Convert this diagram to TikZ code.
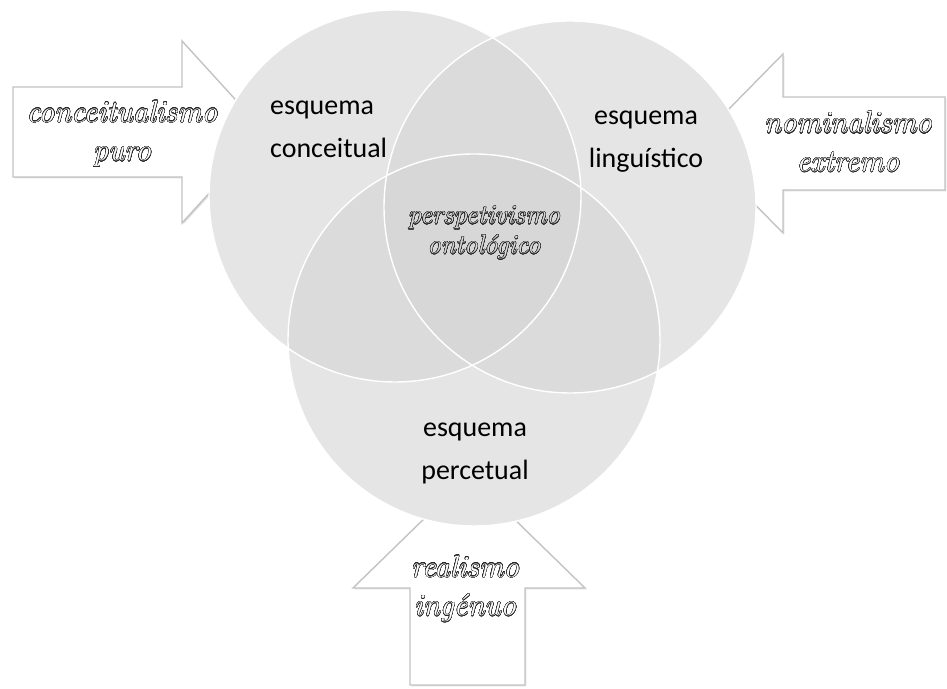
\documentclass[tikz,border=0pt]{standalone}
\usepackage{fontspec}
\newfontfamily\schemafont{Carlito}
\usepackage[copies]{contour}
\contourlength{0.22pt}
\contournumber{32}
\definecolor{venn}{RGB}{213,213,213}
\definecolor{rim}{RGB}{195,195,195}
\definecolor{ink}{RGB}{40,40,40}
\definecolor{core}{RGB}{216,216,216}
\usetikzlibrary{shadows}
\newcommand{\hollow}[2]{\contour{ink}{\textcolor{#1}{#2}}}

\begin{document}
\begin{tikzpicture}[x=0.02cm,y=0.02cm,
	block/.style={fill=white,draw=rim,line width=0.8pt,drop shadow={opacity=0.25,shadow xshift=0.8pt,shadow yshift=-0.8pt}},
	disc/.style={fill=venn,fill opacity=0.6},
	rimline/.style={draw=white,line width=0.8pt},
	schema/.style={font=\schemafont\fontsize{15.9}{24.5}\selectfont},
	school/.style={font=\itshape\fontsize{17.5}{22}\selectfont,align=center}]
	\useasboundingbox (0,0) rectangle (947,689);
	
	\coordinate (conc) at (395,493);
	\coordinate (ling) at (570,482);
	\coordinate (perc) at (474,349);
	
	% block arrows
	\draw[block] (13,512) -- (182,512) -- (182,466) -- (265,557) -- (182,648) -- (182,602) -- (13,602) -- cycle;
	\draw[block] (945,499) -- (783,499) -- (783,456) -- (695,545.5) -- (783,635) -- (783,592) -- (945,592) -- cycle;
	\draw[block] (410,4) -- (525,4) -- (525,101) -- (585,101) -- (469,214) -- (353,101) -- (410,101) -- cycle;
	
	% the three schemes
	\foreach \c in {conc,ling,perc}
		\fill[white] (\c) circle (186);
	\foreach \c in {conc,ling,perc}
		\fill[disc] (\c) circle (186);
	\foreach \c in {conc,ling,perc}
		\draw[rimline] (\c) circle (186);
	
	\node[schema,anchor=west,align=left] (conceitual) at (264,560) {esquema\\conceitual};
	\node[schema,align=center] (linguistico) at (646,547) {esquema\\linguístico};
	\node[schema,align=center] (percetual) at (475,236) {esquema\\percetual};
	
	\node[school] (puro) at (122,555) {\hollow{white}{conceitualismo}\\\hollow{white}{puro}};
	\node[school] (extremo) at (848,547) {\hollow{white}{nominalismo}\\\hollow{white}{extremo}};
	\node[school] (ingenuo) at (465,100) {\hollow{white}{realismo}\\\hollow{white}{ingénuo}};
	\node[school,font=\itshape\fontsize{15.2}{17}\selectfont] (ontologico) at (484,456) {\hollow{core}{perspetivismo}\\\hollow{core}{ontológico}};
\end{tikzpicture}
\end{document}
